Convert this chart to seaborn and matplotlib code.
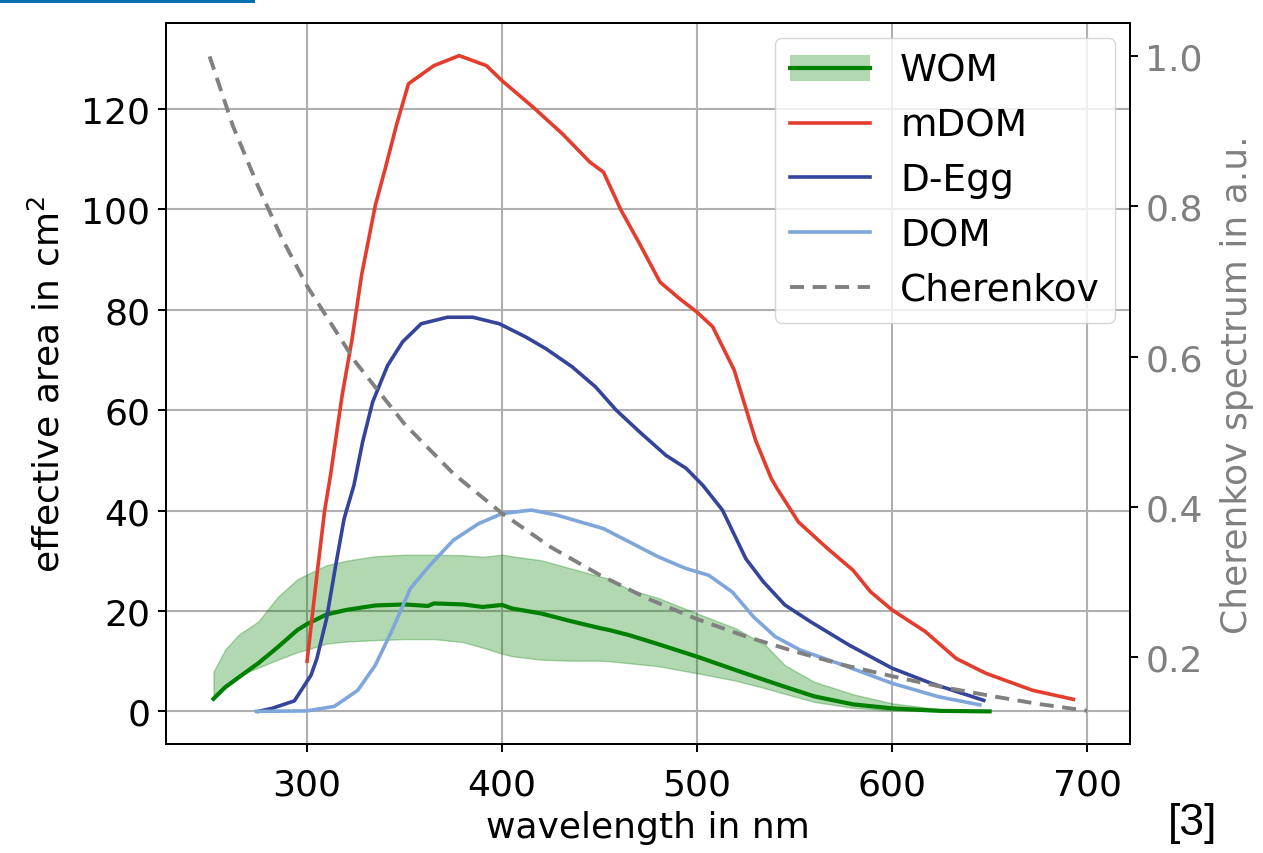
import numpy as np
import seaborn as sns
import matplotlib.pyplot as plt
from matplotlib.patches import Patch, Rectangle
from matplotlib.lines import Line2D

# ---------------------------------
# Data
# ---------------------------------
wom_wl = [252, 258, 265, 275, 285, 295, 300, 310, 320, 335, 350, 362, 365,
          380, 390, 400, 405, 420, 435, 450, 455, 465, 480, 500, 520, 535,
          545, 560, 580, 600, 625, 650]
wom_mean = [2.5, 4.8, 6.8, 9.6, 12.8, 16.2, 17.4, 19.3, 20.2, 21.1, 21.3, 21.0,
            21.5, 21.3, 20.8, 21.2, 20.5, 19.5, 18.0, 16.6, 16.2, 15.2, 13.4,
            10.9, 8.2, 6.2, 4.9, 3.0, 1.4, 0.6, 0.1, 0.0]
wom_high = [7.9, 12.3, 15.3, 17.9, 22.8, 26.3, 27.3, 29.1, 30.0, 30.9, 31.2,
            31.2, 31.2, 31.1, 30.8, 31.2, 30.9, 30.1, 28.5, 26.9, 26.4, 24.3,
            22.6, 19.5, 16.5, 13.2, 9.2, 5.9, 3.4, 1.6, 0.4, 0.0]
wom_low = [3.2, 5.3, 7.2, 8.7, 10.3, 11.8, 12.3, 13.5, 13.9, 14.2, 14.4, 14.4,
           14.4, 13.8, 12.7, 11.5, 11.0, 10.3, 10.1, 10.1, 10.0, 9.6, 9.0, 7.6,
           6.1, 4.6, 3.5, 1.9, 0.7, 0.2, 0.0, 0.0]

mdom_wl = [300, 305, 309, 312, 318, 323, 328, 335, 340, 346, 352, 365, 378,
           392, 400, 416, 431, 445, 452, 461, 470, 481, 491, 500, 508, 519,
           530, 538, 541, 552, 567, 580, 589, 600, 617, 633, 648, 672, 693]
mdom_val = [10, 27, 40, 47, 63, 74, 87, 100.8, 108, 117, 125, 128.6, 130.6,
            128.6, 125.6, 120.3, 115, 109.4, 107.4, 99.8, 93.5, 85.5, 82.2,
            79.5, 76.6, 68, 54, 46.4, 44.4, 37.7, 32.4, 28.1, 23.8, 20.2, 15.9,
            10.5, 7.6, 4.2, 2.4]

degg_wl = [275, 282, 293.5, 302, 305, 310, 315, 319, 324, 328.5, 333.6, 341.3,
           349, 358.5, 372, 385, 398.6, 412, 422.6, 436, 448, 458.5, 470.4,
           484, 494.4, 503, 513, 525, 534, 545, 558, 578, 600, 620, 647]
degg_val = [0, 0.6, 2.1, 7.2, 10.5, 18.5, 29.8, 38.4, 45, 53.7, 61.6, 68.9,
            73.6, 77.2, 78.5, 78.5, 77.2, 74.6, 72.2, 68.6, 64.6, 60, 55.7, 51,
            48.4, 45, 40.1, 30.4, 25.8, 21.2, 17.9, 13.2, 8.6, 5.6, 2.2]

dom_wl = [274, 300, 314, 326, 335, 344, 353, 363, 375, 388, 400, 415, 428,
          452, 480, 494, 506, 518, 529, 540, 553, 575, 600, 624, 645]
dom_val = [0, 0.1, 1.0, 4.2, 9.2, 16.5, 24.5, 29.1, 34.1, 37.4, 39.4, 40.1,
           39.1, 36.4, 30.8, 28.5, 27.1, 23.8, 18.8, 14.9, 12.2, 9.2, 5.6,
           2.9, 1.3]

cher_wl = [250, 262, 275, 287, 300, 325, 350, 375, 400, 425, 450, 475, 500,
           525, 550, 575, 600, 625, 650, 675, 700]
cher_val = [1.0, 0.907, 0.826, 0.758, 0.694, 0.592, 0.510, 0.444, 0.391,
            0.346, 0.309, 0.277, 0.250, 0.227, 0.207, 0.189, 0.174, 0.160,
            0.148, 0.137, 0.128]

labels = ["WOM", "mDOM", "D-Egg", "DOM", "Cherenkov"]

# Colours
c_wom = "green"
c_mdom = "#e43c2d"
c_degg = "#34449a"
c_dom = "#7fa6db"
c_cher = "gray"

# ---------------------------------
# Plot
# ---------------------------------
fs = 26
lw = 2.6
dash = (0, (3.6, 2.2))
plt.rcParams['font.family'] = ['DejaVu Sans']

f = plt.figure(figsize=(12.63, 8.54), dpi=100)
ax = f.add_axes([0.1312, 0.1276, 0.7635, 0.8443])
ax2 = ax.twinx()
ax2.set_position(ax.get_position())

# WOM band + mean
ax.fill_between(wom_wl, wom_low, wom_high, color=c_wom, alpha=0.3, lw=1)
sns.lineplot(x=wom_wl, y=wom_mean, ax=ax, color=c_wom, lw=3.0)
sns.lineplot(x=mdom_wl, y=mdom_val, ax=ax, color=c_mdom, lw=lw)
sns.lineplot(x=degg_wl, y=degg_val, ax=ax, color=c_degg, lw=lw)
sns.lineplot(x=dom_wl, y=dom_val, ax=ax, color=c_dom, lw=lw)

# Cherenkov on the right axis
sns.lineplot(x=cher_wl, y=cher_val, ax=ax2, color=c_cher, lw=2.8,
             linestyle=dash)

# Axes
ax.set_xlim(227.5, 722)
ax.set_ylim(-6.5, 137.1)
ax2.set_ylim(0.0836, 1.0445)
ax.set_xticks([300, 400, 500, 600, 700])
ax.set_yticks([0, 20, 40, 60, 80, 100, 120])
ax2.set_yticks([0.2, 0.4, 0.6, 0.8, 1.0])
ax.grid(True, color="#b0b0b0", lw=1.5)
ax.set_axisbelow(True)

for a in (ax, ax2):
    for s in a.spines.values():
        s.set_linewidth(1.4)
    a.tick_params(length=6, width=1.4, labelsize=fs, pad=5)
ax.tick_params(axis='x', pad=11)
ax2.tick_params(axis='y', labelcolor=c_cher)

ax.set_xlabel("wavelength in nm", fontsize=fs, labelpad=6)
ax.set_ylabel("effective area in cm$^2$", fontsize=fs, labelpad=11)
ax2.set_ylabel("Cherenkov spectrum in a.u.", fontsize=fs, color=c_cher,
               labelpad=12)

# Legend
handles = [
    (Patch(facecolor=c_wom, alpha=0.3, edgecolor='none'),
     Line2D([], [], color=c_wom, lw=3.0)),
    Line2D([], [], color=c_mdom, lw=lw),
    Line2D([], [], color=c_degg, lw=lw),
    Line2D([], [], color=c_dom, lw=lw),
    Line2D([], [], color=c_cher, lw=2.8, linestyle=dash),
]
ax2.legend(handles, labels, loc="upper right", fontsize=27, framealpha=0.8,
           borderaxespad=0.4, labelspacing=0.5, handlelength=2.15)

# Reference tag and header bar
f.text(0.925, 0.022, "[3]", fontsize=32, family="Liberation Sans")
f.add_artist(Rectangle((0, 0.9953), 0.2019, 0.0047, transform=f.transFigure,
                       color="#0070b0", lw=0))

f.savefig("out.png", dpi=100)
